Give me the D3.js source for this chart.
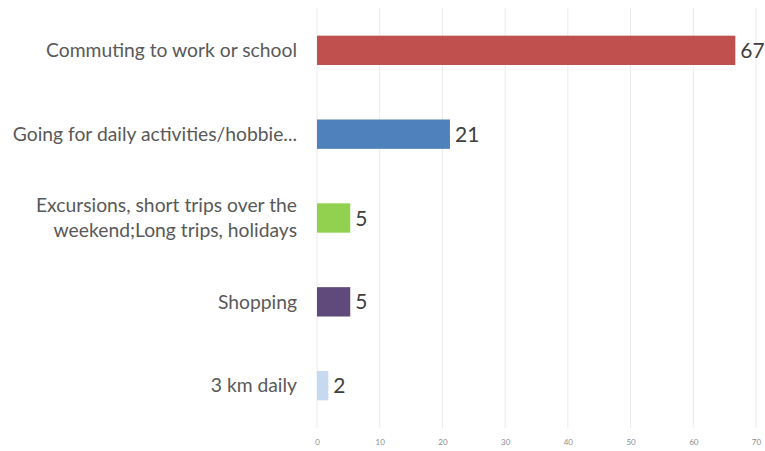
<!DOCTYPE html>
<html><head><meta charset="utf-8">
<script src="https://cdn.jsdelivr.net/npm/d3@7"></script>
<style>body{margin:0;background:#fff}</style>
</head><body>
<svg id="c" width="765" height="451"></svg>
<script>
const categories = [
  ["Commuting to work or school"],
  ["Going for daily activities/hobbie..."],
  ["Excursions, short trips over the", "weekend;Long trips, holidays"],
  ["Shopping"],
  ["3 km daily"]
];
const values = [66.7, 21.2, 5.3, 5.3, 1.8];
const colors = ["#C0504D", "#4F81BD", "#92D050", "#604A7B", "#C6D9F1"];
const xTicks = [0, 10, 20, 30, 40, 50, 60, 70];

(function() {
const svg = d3.select("#c");
const pLeft = 317, pRight = 756, pTop = 8, pBottom = 428;
const x = d3.scaleLinear().domain([0, 70]).range([pLeft, pRight]);
const y = d3.scaleBand().domain(d3.range(values.length)).range([pTop, pBottom]).paddingInner(0.65).paddingOuter(0.33);

svg.append("g").selectAll("line").data(xTicks).join("line")
  .attr("x1", d => x(d)).attr("x2", d => x(d))
  .attr("y1", pTop).attr("y2", pBottom)
  .attr("stroke", "#ebebeb").attr("stroke-width", 1);

const ax = svg.append("g").attr("transform", `translate(0,${pBottom})`)
  .call(d3.axisBottom(x).tickValues(xTicks).tickSize(0).tickPadding(11));
ax.select(".domain").remove();
ax.selectAll("text").attr("fill", "#8c8c8c").attr("font-size", 8).attr("font-family", "Lato, sans-serif");

svg.append("g").selectAll("rect").data(values).join("rect")
  .attr("x", x(0)).attr("y", (d, i) => y(i))
  .attr("width", d => x(d) - x(0)).attr("height", y.bandwidth())
  .attr("fill", (d, i) => colors[i]);

const fmt = d3.format(".0f");
svg.append("g").selectAll("text").data(values).join("text")
  .attr("x", d => x(d) + 5).attr("y", (d, i) => y(i) + y.bandwidth() / 2)
  .attr("dy", "0.36em")
  .attr("font-family", "Lato, sans-serif").attr("font-size", 21)
  .attr("fill", "#404040")
  .text(d => fmt(d));

const cg = svg.append("g").selectAll("text").data(categories).join("text")
  .attr("text-anchor", "end")
  .attr("font-family", "Lato, sans-serif").attr("font-size", 19.3)
  .attr("fill", "#595959")
  .attr("transform", (d, i) => `translate(297,${y(i) + y.bandwidth() / 2})`);
cg.each(function(lines) {
  const t = d3.select(this);
  const n = lines.length;
  lines.forEach((l, j) => {
    t.append("tspan").attr("x", 0)
      .attr("y", (j - (n - 1) / 2) * 25)
      .attr("dy", "0.35em").text(l);
  });
});
})();
</script>
</body></html>
